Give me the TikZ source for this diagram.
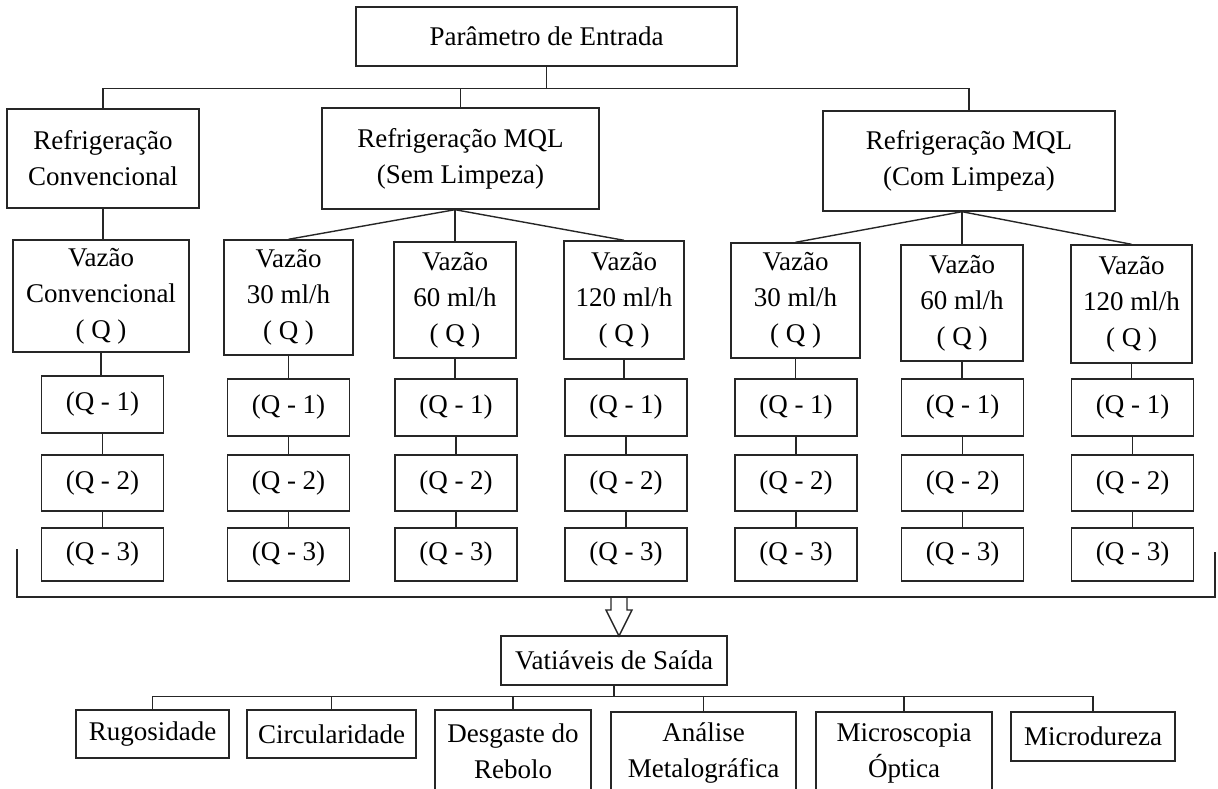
\documentclass[tikz,border=0pt]{standalone}
\usepackage{fontspec}
\setmainfont{Liberation Serif}
\colorlet{ln}{black!85}
\begin{document}
\begin{tikzpicture}[x=1pt,y=-1pt,
  box/.style={draw=ln, line width=1.4pt, inner sep=0pt, align=center,
              font=\fontsize{27}{36}\selectfont},
  qbox/.style={box, minimum width=122pt},
  wire/.style={draw=ln, line width=1.4pt}]
\path[use as bounding box] (0,0) rectangle (1218,789);
\clip (0,0) rectangle (1218,789);

% input parameter
\node[box, minimum width=381pt, minimum height=59pt] (P) at (546.5,36.5) {Parâmetro de Entrada};

% cooling strategies
\node[box, minimum width=192pt, minimum height=99pt]  (rc) at (103,158.5) {Refrigeração\\Convencional};
\node[box, minimum width=277pt, minimum height=101pt] (ms) at (460.5,158.5) {Refrigeração MQL\\(Sem Limpeza)};
\node[box, minimum width=292pt, minimum height=100pt] (mc) at (969,161) {Refrigeração MQL\\(Com Limpeza)};

% flow rates
\node[box, minimum width=176pt, minimum height=112pt] (va) at (101,296)    {Vazão\\Convencional\\( Q )};
\node[box, minimum width=129pt, minimum height=115pt] (vb) at (288.5,297.5) {Vazão\\30 ml/h\\( Q )};
\node[box, minimum width=122pt, minimum height=116pt] (vc) at (455,300)    {Vazão\\60 ml/h\\( Q )};
\node[box, minimum width=120pt, minimum height=118pt] (vd) at (624,300)    {Vazão\\120 ml/h\\( Q )};
\node[box, minimum width=129pt, minimum height=115pt] (ve) at (795.5,300.5) {Vazão\\30 ml/h\\( Q )};
\node[box, minimum width=122pt, minimum height=116pt] (vf) at (962,303)    {Vazão\\60 ml/h\\( Q )};
\node[box, minimum width=121pt, minimum height=118pt] (vg) at (1131.5,304) {Vazão\\120 ml/h\\( Q )};

% repetitions
\node[qbox, minimum height=57pt] (q1a) at (102.5,404.5) {(Q - 1)};
\foreach \n/\x in {b/288.5, c/456, d/626, e/796, f/962.5, g/1132.5}
  \node[qbox, minimum height=57pt] (q1\n) at (\x,407.5) {(Q - 1)};
\foreach \n/\x in {a/102.5, b/288.5, c/456, d/626, e/796, f/962.5, g/1132.5}{
  \node[qbox, minimum height=56pt] (q2\n) at (\x,483) {(Q - 2)};
  \node[qbox, minimum height=53pt] (q3\n) at (\x,554.5) {(Q - 3)};
}

% tree connectors, top part
\draw[wire] (P.south) -- ++(0,22) coordinate (bus1);
\draw[wire] (rc.north) |- (bus1) -| (mc.north);
\draw[wire] (ms.north) -- (ms.north |- bus1);
\draw[wire] (rc.south) -- (rc.south |- va.north);
\draw[wire] (vc.north) -- (vc.north |- ms.south) coordinate (apexS);
\draw[wire] (vb.north) -- (apexS) -- (vd.north);
\draw[wire] (vf.north) -- (vf.north |- mc.south) coordinate (apexC);
\draw[wire] (ve.north) -- (apexC) -- (vg.north);
\foreach \n in {a,b,c,d,e,f,g}{
  \draw[wire] (v\n.south) -- (v\n.south |- q1\n.north);
  \draw[wire] (q1\n.south) -- (q1\n.south |- q2\n.north);
  \draw[wire] (q2\n.south) -- (q2\n.south |- q3\n.north);
}

% grouping bracket and hollow arrow
\coordinate (brL) at (17,549);
\coordinate (brR) at (1215,552);
\draw[wire] (brL) |- (brR |- 0,597) -- (brR);
\draw[wire, line join=miter] (611,597) -- (611,610) -- (606,610) -- (619,636)
  -- (632,610) -- (627,610) -- (627,597);

% output variables
\node[box, minimum width=226pt, minimum height=49pt] (vs) at (614,660.5) {Vatiáveis de Saída};
\node[box, minimum width=153pt, minimum height=48pt] (o1) at (152.5,734) {Rugosidade};
\node[box, minimum width=169pt, minimum height=48pt] (o2) at (331.5,734) {Circularidade};
\node[box, minimum width=156pt, minimum height=82pt] (o3) at (513,751) {Desgaste do\\Rebolo};
\node[box, minimum width=185pt, minimum height=82pt] (o4) at (703.5,753) {Análise\\Metalográfica};
\node[box, minimum width=176pt, minimum height=82pt] (o5) at (904,753) {Microscopia\\Óptica};
\node[box, minimum width=164pt, minimum height=49pt] (o6) at (1093,736.5) {Microdureza};

\draw[wire] (vs.south) -- ++(0,11) coordinate (bus2);
\draw[wire] (o1.north) |- (bus2) -| (o6.north);
\foreach \n in {o2,o3,o4,o5}
  \draw[wire] (\n.north) -- (\n.north |- bus2);
\end{tikzpicture}
\end{document}
